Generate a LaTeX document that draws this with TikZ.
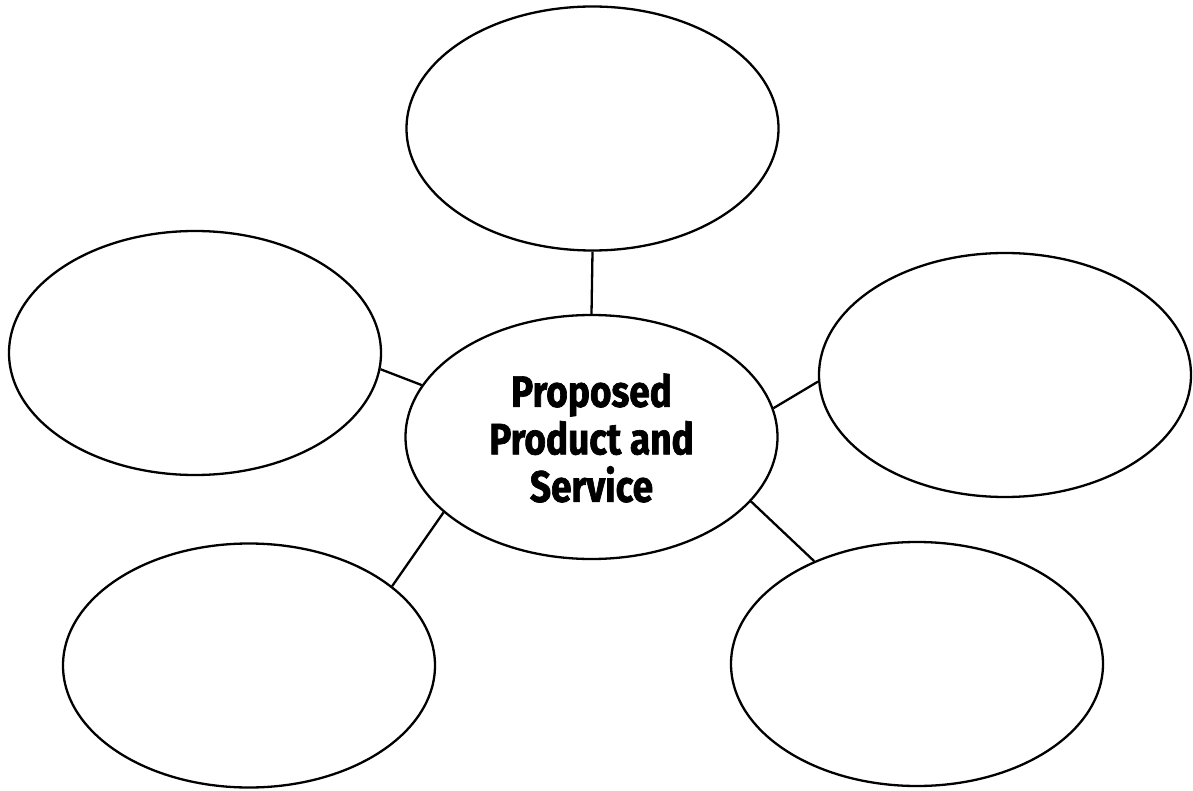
\documentclass[tikz,border=0pt]{standalone}
\usepackage{fontspec}
\setmainfont{Fira Sans}
\newfontfamily\labelfont[FakeStretch=0.84,FakeBold=1.5]{Fira Sans Bold}
\usetikzlibrary{shapes.geometric}
\begin{document}
\begin{tikzpicture}[x=1pt,y=-1pt,
  bubble/.style={ellipse, draw=black, line width=2.3pt, minimum width=372pt, minimum height=244pt, inner sep=0pt},
  link/.style={draw=black, line width=2.3pt},
  title/.style={font=\labelfont\fontsize{44}{47.5}\selectfont, align=center}]
\useasboundingbox[fill=white] (0,0) rectangle (1193,791);
\node[bubble] (C) at (591.5,437) {};
\node[title] (Ct) at (591.5,438) {Proposed\\Product and\\Service};
\node[bubble] (T) at (592.5,128.5) {};
\node[bubble] (L) at (195,353) {};
\node[bubble] (R) at (1005,375) {};
\node[bubble] (BL) at (249,665.5) {};
\node[bubble] (BR) at (917,664) {};
\draw[link] (C.90) -- (T.-90);
\draw[link] (C.163.5) -- (L.-5.6);
\draw[link] (C.207.9) -- (BL.29.9);
\draw[link] (C.9.1) -- (R.182.8);
\draw[link] (C.-22.2) -- (BR.135.3);
\end{tikzpicture}
\end{document}
